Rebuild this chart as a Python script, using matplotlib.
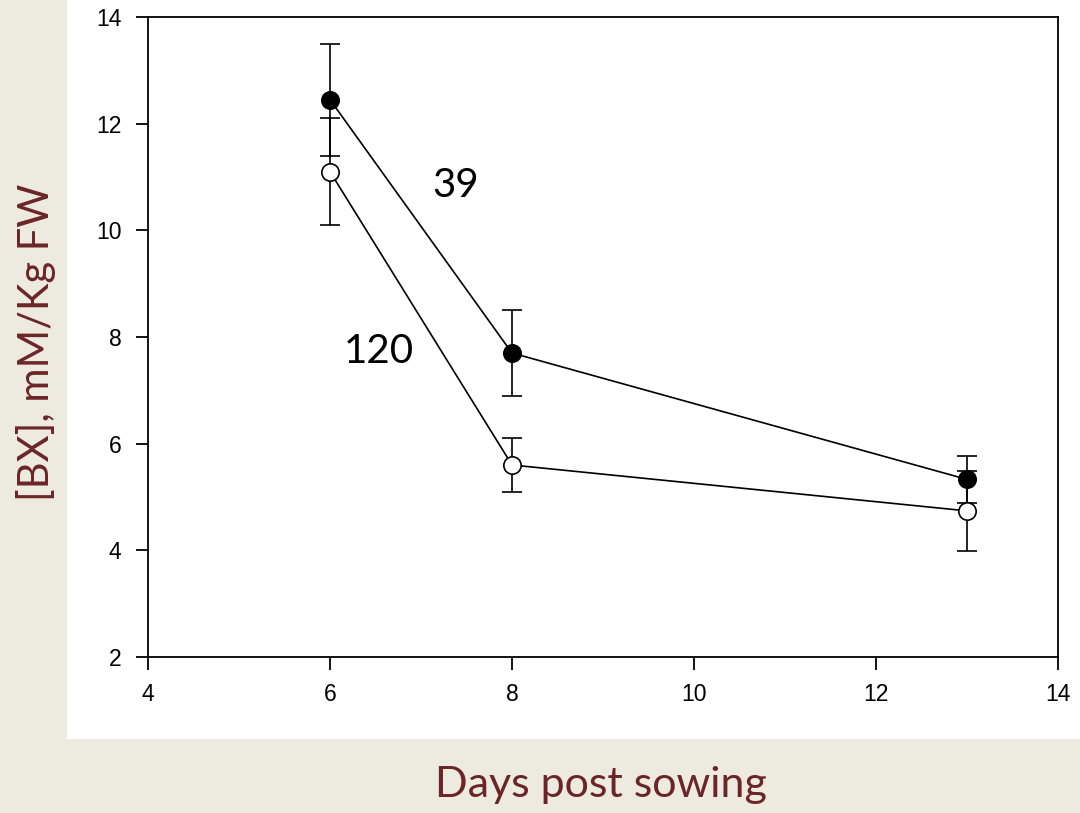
import matplotlib.pyplot as plt
from matplotlib.patches import Rectangle

# days post sowing
days = [6, 8, 13]

# line "39" (filled markers)
bx_39 = [12.45, 7.70, 5.33]
err_39 = [1.05, 0.80, 0.44]

# line "120" (open markers)
bx_120 = [11.10, 5.60, 4.74]
err_120 = [1.00, 0.50, 0.75]

x_ticks = [4, 6, 8, 10, 12, 14]
y_ticks = [2, 4, 6, 8, 10, 12, 14]

bg = "#edeae0"
red = "#6b2526"

fig = plt.figure(figsize=(10.8, 8.13), dpi=100)
fig.patch.set_facecolor(bg)
# white panel behind the plot
fig.patches.append(Rectangle((67 / 1080, 1 - 739 / 813), 1, 739 / 813,
                             transform=fig.transFigure, facecolor="white",
                             edgecolor="none", zorder=-5))

ax = fig.add_axes([148 / 1080, 1 - 657 / 813, 910 / 1080, 640 / 813])
ax.set_zorder(2)
ax.set_facecolor("white")

ax.errorbar(days, bx_39, yerr=err_39, color="black", lw=1.2, capsize=7.5,
            capthick=1.2, elinewidth=1.2, marker="o", ms=12.5,
            mfc="black", mec="black", mew=1.2, zorder=3)
ax.errorbar(days, bx_120, yerr=err_120, color="black", lw=1.2, capsize=7.5,
            capthick=1.2, elinewidth=1.2, marker="o", ms=12.5,
            mfc="white", mec="black", mew=1.2, zorder=3)

ax.set_xlim(4, 14)
ax.set_ylim(2, 14)
ax.set_xticks(x_ticks)
ax.set_yticks(y_ticks)
for s in ax.spines.values():
    s.set_linewidth(1.3)
ax.tick_params(direction="out", length=9, width=1.3, labelsize=16.5, pad=10)
for lab in ax.get_xticklabels() + ax.get_yticklabels():
    lab.set_family("Liberation Sans")

ax.text(7.38, 10.85, "39", fontsize=29, family="Lato", ha="center", va="center")
ax.text(6.54, 7.72, "120", fontsize=29, family="Lato", ha="center", va="center")

fig.text(36 / 1080, 1 - 342 / 813, "[BX], mM/Kg FW", rotation=90, fontsize=30,
         family="Lato", color=red, ha="center", va="center")
fig.text(601 / 1080, 1 - 797 / 813, "Days post sowing", fontsize=31,
         family="Lato", color=red, ha="center", va="baseline")

fig.savefig("out.png", dpi=100, facecolor=bg)
